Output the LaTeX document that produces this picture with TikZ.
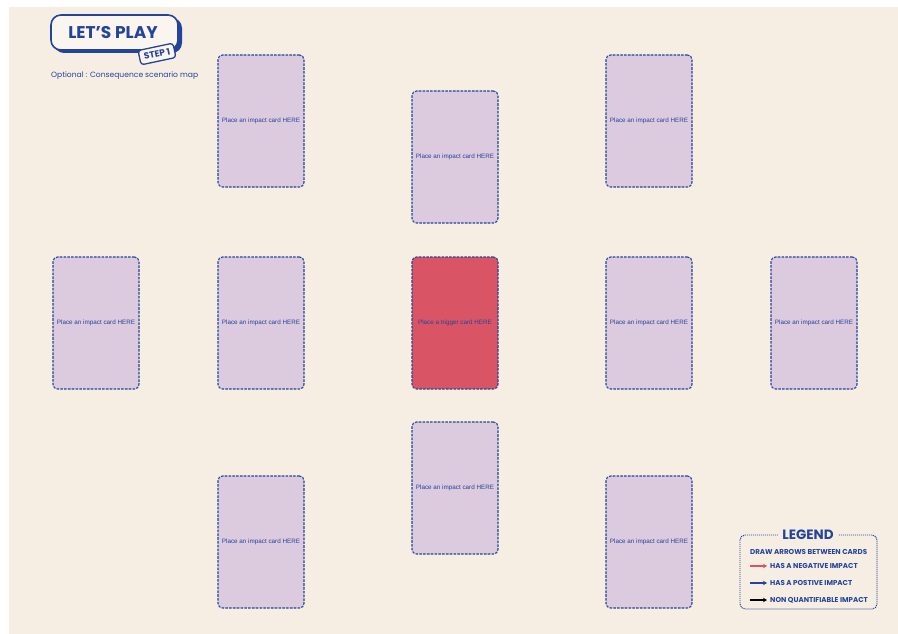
\documentclass[tikz,border=0pt]{standalone}
\usepackage{fontspec}
\setmainfont{Liberation Sans}
\newfontfamily\titlefont{Poppins}
\usetikzlibrary{arrows.meta}
\definecolor{bgc}{HTML}{F6EEE3}
\definecolor{navy}{HTML}{24439A}
\definecolor{lav}{HTML}{DCCADF}
\definecolor{trig}{HTML}{D95565}
\definecolor{negred}{HTML}{E0505F}
\tikzset{
  card/.style={draw=navy, line width=1.1pt, dash pattern=on 2.6pt off 1.2pt, rounded corners=4.5pt,
    fill=lav, minimum width=86pt, minimum height=132pt, inner sep=0pt,
    font=\fontsize{6.3}{7}\selectfont, text=navy},
  trigcard/.style={card, fill=trig},
  legtxt/.style={anchor=west, font=\titlefont\bfseries\fontsize{7.1}{8}\selectfont, text=navy, inner sep=0pt},
  legarrow/.style={line width=1.2pt, -{Stealth[length=4pt,width=4.5pt]}}
}
\begin{document}
\begin{tikzpicture}[x=1pt,y=-1pt]
\useasboundingbox (0,0) rectangle (898,634);
\fill[white] (0,0) rectangle (898,634);
\fill[bgc] (9,7) rectangle (898,634);
% title
\fill[navy, rounded corners=10pt] (54,18) rectangle (182,53);
\draw[navy, line width=1.6pt, fill=bgc!60!white, rounded corners=10pt] (51,15) rectangle (178,50);
\node[font=\titlefont\bfseries\fontsize{17}{18}\selectfont, text=navy] (title) at (113,33) {LET’S PLAY};
\node[draw=navy, line width=1.3pt, fill=bgc!60!white, rounded corners=3pt, rotate=12,
  font=\titlefont\bfseries\fontsize{9}{10}\selectfont, text=navy, inner xsep=4.5pt, inner ysep=4pt] (step) at (157,54) {STEP 1};
\node[anchor=west, inner sep=0pt, font=\titlefont\fontsize{7.6}{9}\selectfont, text=navy] (sub) at (51,76) {Optional : Consequence scenario map};
% cards
\node[card] (c1) at (261,121) {Place an impact card HERE};
\node[card] (c2) at (455,157) {Place an impact card HERE};
\node[card] (c3) at (649,121) {Place an impact card HERE};
\node[card] (c4) at (96,323) {Place an impact card HERE};
\node[card] (c5) at (261,323) {Place an impact card HERE};
\node[trigcard] (t) at (455,323) {Place a trigger card HERE};
\node[card] (c6) at (649,323) {Place an impact card HERE};
\node[card] (c7) at (814,323) {Place an impact card HERE};
\node[card] (c8) at (455,488) {Place an impact card HERE};
\node[card] (c9) at (261,542) {Place an impact card HERE};
\node[card] (c10) at (649,542) {Place an impact card HERE};
% legend
\draw[navy, line width=0.9pt, dash pattern=on 1.2pt off 0.8pt, rounded corners=5pt] (740,535) rectangle (877,609);
\node[fill=bgc, inner xsep=4pt, inner ysep=1pt, font=\titlefont\bfseries\fontsize{13.5}{14}\selectfont, text=navy] (leg) at (808,535) {LEGEND};
\node[legtxt] (l0) at (750,552) {DRAW ARROWS BETWEEN CARDS};
\coordinate (a1s) at (750,566); \coordinate (a1e) at (767,566);
\coordinate (a2s) at (750,583); \coordinate (a2e) at (767,583);
\coordinate (a3s) at (750,600); \coordinate (a3e) at (767,600);
\draw[legarrow, negred] (a1s) -- (a1e);
\draw[legarrow, navy] (a2s) -- (a2e);
\draw[legarrow, black] (a3s) -- (a3e);
\node[legtxt] (l1) at (770,566) {HAS A NEGATIVE IMPACT};
\node[legtxt] (l2) at (770,583) {HAS A POSTIVE IMPACT};
\node[legtxt] (l3) at (770,600) {NON QUANTIFIABLE IMPACT};
\end{tikzpicture}
\end{document}
